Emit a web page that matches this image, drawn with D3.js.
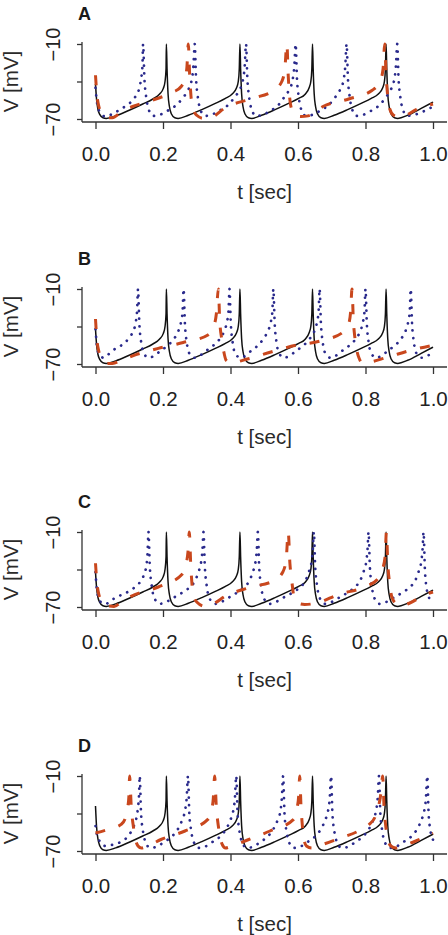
<!DOCTYPE html>
<html><head><meta charset="utf-8">
<script src="https://cdn.jsdelivr.net/npm/d3@7"></script>
<style>body{margin:0;background:#fff}svg{display:block}text{font-family:"Liberation Sans",Arial,Helvetica,sans-serif;fill:#222}</style>
</head><body>
<script>
// ---- data: [t (sec), V (mV)] ----
const panelLabels = ["A","B","C","D"];
const xTickValues = [0.0,0.2,0.4,0.6,0.8,1.0];
const yTickValues = [-10,-40,-70];
const yTickLabels = ["\u221210","","\u221270"];

const blackABC = [[0,-42],[0.003,-54],[0.007,-62],[0.013,-66.5],[0.022,-69],[0.032,-69.5],[0.06,-67.5],[0.10,-63],[0.14,-58],[0.17,-54],[0.19,-50],[0.201,-45.5],[0.206,-40],[0.209,-30],[0.21,-10],
[0.212,-30],[0.215,-50],[0.219,-60],[0.225,-66],[0.235,-69],[0.245,-69.5],[0.275,-67],[0.315,-62.5],[0.355,-57.5],[0.385,-53.5],[0.405,-50],[0.418,-45],[0.423,-40],[0.426,-30],[0.428,-10],
[0.430,-30],[0.433,-50],[0.437,-60],[0.443,-66],[0.453,-69],[0.463,-69.5],[0.492,-67],[0.532,-62.5],[0.572,-57.5],[0.602,-53.5],[0.622,-50],[0.633,-45],[0.638,-40],[0.641,-30],[0.643,-10],
[0.645,-30],[0.648,-50],[0.652,-60],[0.658,-66],[0.668,-69],[0.678,-69.5],[0.707,-67],[0.747,-62.5],[0.787,-57.5],[0.817,-53.5],[0.838,-50],[0.851,-45],[0.856,-40],[0.859,-30],[0.861,-10],
[0.863,-30],[0.866,-50],[0.870,-60],[0.876,-66],[0.886,-69],[0.896,-69.5],[0.925,-67],[0.965,-61.5],[1.0,-56.5]];

const blackD = [[0,-34],[0.003,-50],[0.007,-60],[0.013,-66],[0.022,-69],[0.032,-69.5],[0.06,-67.5],[0.10,-63],[0.14,-58],[0.17,-54],[0.19,-50],[0.201,-45.5],[0.206,-40],[0.209,-30],[0.21,-10],
[0.212,-30],[0.215,-50],[0.219,-60],[0.225,-66],[0.235,-69],[0.245,-69.5],[0.275,-67],[0.315,-62.5],[0.355,-57.5],[0.385,-53.5],[0.405,-50],[0.418,-45],[0.423,-40],[0.426,-30],[0.428,-10],
[0.430,-30],[0.433,-50],[0.437,-60],[0.443,-66],[0.453,-69],[0.463,-69.5],[0.492,-67],[0.532,-62.5],[0.572,-57.5],[0.602,-53.5],[0.622,-50],[0.633,-45],[0.638,-40],[0.641,-30],[0.643,-10],
[0.645,-30],[0.648,-50],[0.652,-60],[0.658,-66],[0.668,-69],[0.678,-69.5],[0.707,-67],[0.747,-62.5],[0.787,-57.5],[0.817,-53.5],[0.838,-50],[0.851,-45],[0.856,-40],[0.859,-30],[0.861,-10],
[0.863,-30],[0.866,-50],[0.870,-60],[0.876,-66],[0.886,-69],[0.896,-69.5],[0.925,-67],[0.965,-61.5],[1.0,-56.5]];

const blueA = [[0,-45],[0.004,-56],[0.01,-63],[0.02,-67],[0.03,-68],[0.05,-66],[0.077,-61.7],[0.097,-58.3],[0.116,-53],[0.129,-46],[0.135,-38],[0.139,-28],[0.141,-10],
[0.145,-38],[0.150,-52],[0.157,-62],[0.171,-67.5],[0.186,-67],[0.216,-63],[0.241,-58.5],[0.259,-53],[0.274,-47],[0.284,-40],[0.290,-28],[0.294,-10],
[0.298,-38],[0.303,-52],[0.310,-62],[0.324,-67.5],[0.339,-67],[0.369,-63],[0.394,-58.5],[0.411,-53],[0.426,-47],[0.436,-40],[0.442,-28],[0.446,-10],
[0.450,-38],[0.455,-52],[0.462,-62],[0.476,-67.5],[0.491,-67],[0.521,-63],[0.543,-58.5],[0.558,-53],[0.573,-47],[0.583,-40],[0.589,-28],[0.593,-10],
[0.597,-38],[0.602,-52],[0.609,-62],[0.623,-67.5],[0.638,-67],[0.668,-63],[0.692,-58.5],[0.709,-53],[0.724,-47],[0.734,-40],[0.740,-28],[0.744,-10],
[0.748,-38],[0.753,-52],[0.760,-62],[0.774,-67.5],[0.789,-67],[0.819,-63],[0.843,-58.5],[0.859,-53],[0.874,-47],[0.884,-40],[0.890,-28],[0.894,-10],
[0.898,-38],[0.903,-52],[0.910,-62],[0.924,-67.5],[0.939,-67],[0.975,-63.5],[1.0,-60]];

const redA = [[0,-35],[0.004,-50],[0.01,-60],[0.02,-66],[0.035,-69],[0.05,-69],[0.078,-64],[0.11,-60],[0.15,-56.5],[0.19,-53],[0.23,-48.5],[0.254,-44],[0.265,-38],[0.271,-28],[0.275,-10],
[0.279,-35],[0.283,-52],[0.289,-62],[0.30,-67],[0.32,-69.5],[0.34,-69],[0.387,-60.5],[0.466,-53.5],[0.531,-46.5],[0.552,-40],[0.561,-30],[0.567,-10],
[0.571,-35],[0.575,-52],[0.581,-62],[0.592,-67],[0.609,-68],[0.63,-67.5],[0.674,-60],[0.75,-54],[0.82,-47],[0.843,-40],[0.852,-30],[0.857,-10],
[0.861,-35],[0.866,-52],[0.872,-62],[0.883,-67],[0.90,-68.5],[0.92,-67],[0.95,-62.5],[1.0,-58]];

const blueB = [[0,-42],[0.005,-57],[0.013,-63.5],[0.025,-65],[0.033,-63.5],[0.052,-59],[0.077,-55],[0.097,-50],[0.111,-44],[0.119,-37],[0.123,-28],[0.126,-10],
[0.130,-38],[0.135,-52],[0.142,-61],[0.158,-65],[0.17,-64],[0.195,-59],[0.215,-55],[0.232,-50],[0.245,-44],[0.253,-37],[0.258,-28],[0.261,-10],
[0.265,-38],[0.270,-52],[0.277,-61],[0.293,-65],[0.305,-64],[0.33,-59],[0.35,-55],[0.368,-50],[0.381,-44],[0.389,-37],[0.394,-28],[0.397,-10],
[0.401,-38],[0.406,-52],[0.413,-61],[0.429,-65],[0.44,-64],[0.463,-59],[0.482,-55],[0.497,-50],[0.510,-44],[0.519,-37],[0.524,-28],[0.527,-10],
[0.531,-38],[0.536,-52],[0.543,-61],[0.559,-65],[0.571,-64],[0.597,-59],[0.617,-55],[0.634,-50],[0.648,-44],[0.656,-37],[0.661,-28],[0.664,-10],
[0.668,-38],[0.673,-52],[0.680,-61],[0.696,-65],[0.708,-64],[0.733,-59],[0.753,-55],[0.771,-50],[0.784,-44],[0.792,-37],[0.797,-28],[0.8,-10],
[0.804,-38],[0.809,-52],[0.816,-61],[0.832,-65],[0.844,-64],[0.868,-59],[0.888,-55],[0.905,-50],[0.918,-44],[0.926,-37],[0.931,-28],[0.934,-10],
[0.938,-38],[0.943,-52],[0.950,-61],[0.966,-65],[0.978,-64],[1.0,-61]];

const redB = [[0,-34],[0.004,-50],[0.01,-60],[0.02,-66],[0.035,-69.5],[0.05,-69.5],[0.085,-66],[0.12,-62.5],[0.186,-57.5],[0.26,-52.8],[0.333,-46.8],[0.350,-40],[0.358,-30],[0.364,-10],
[0.368,-35],[0.374,-50],[0.380,-60],[0.387,-67],[0.40,-69],[0.45,-66],[0.52,-60.4],[0.594,-55],[0.668,-51.5],[0.736,-44],[0.750,-38],[0.756,-28],[0.76,-10],
[0.764,-35],[0.769,-50],[0.775,-60],[0.782,-66],[0.79,-69],[0.81,-68.5],[0.86,-65],[0.934,-59],[1.0,-55]];

const blueC = [[0,-42],[0.004,-56],[0.01,-63],[0.02,-67],[0.03,-67.5],[0.05,-64],[0.077,-60.3],[0.102,-57],[0.121,-53],[0.141,-46],[0.150,-38],[0.154,-28],[0.157,-10],
[0.161,-38],[0.166,-52],[0.173,-62],[0.19,-67.5],[0.205,-66.5],[0.235,-62],[0.26,-58],[0.28,-54],[0.295,-49],[0.305,-42],[0.313,-34],[0.317,-24],[0.32,-10],
[0.324,-38],[0.329,-52],[0.336,-62],[0.353,-67.5],[0.368,-66.5],[0.398,-62],[0.422,-58],[0.441,-54],[0.456,-49],[0.466,-42],[0.474,-34],[0.478,-24],[0.481,-10],
[0.485,-38],[0.49,-52],[0.497,-62],[0.515,-67.5],[0.53,-66.5],[0.56,-62],[0.587,-58],[0.607,-54],[0.622,-49],[0.632,-42],[0.64,-34],[0.644,-24],[0.647,-10],
[0.651,-38],[0.656,-52],[0.663,-62],[0.68,-67.5],[0.695,-66.5],[0.725,-62],[0.75,-58],[0.769,-54],[0.784,-49],[0.794,-42],[0.802,-34],[0.806,-24],[0.809,-10],
[0.813,-38],[0.818,-52],[0.825,-62],[0.842,-67.5],[0.857,-66.5],[0.887,-62],[0.912,-58],[0.932,-54],[0.947,-49],[0.957,-42],[0.965,-34],[0.969,-24],[0.972,-10],
[0.976,-40],[0.981,-55],[0.99,-63.5],[1.0,-66]];

const redC = [[0,-35],[0.004,-50],[0.01,-60],[0.02,-66],[0.035,-69],[0.055,-69.5],[0.08,-65],[0.115,-60.3],[0.186,-54],[0.256,-44],[0.268,-36],[0.274,-26],[0.278,-10],
[0.282,-35],[0.286,-52],[0.29,-60],[0.3,-66],[0.325,-69.5],[0.345,-68],[0.387,-61],[0.458,-54.3],[0.531,-48.6],[0.555,-42],[0.565,-32],[0.571,-10],
[0.576,-35],[0.582,-50],[0.588,-62],[0.6,-67],[0.62,-68],[0.653,-67],[0.72,-60],[0.8,-53.6],[0.835,-48],[0.85,-40],[0.858,-30],[0.862,-10],
[0.866,-35],[0.872,-52],[0.878,-62],[0.89,-67],[0.91,-69],[0.93,-67],[0.978,-60],[1.0,-58]];

const blueD = [[0,-50],[0.005,-58],[0.01,-61],[0.02,-65],[0.03,-66],[0.05,-65],[0.077,-62.4],[0.097,-58],[0.112,-51],[0.121,-44],[0.126,-35],[0.129,-25],[0.131,-10],
[0.135,-40],[0.14,-53],[0.147,-62],[0.162,-67.5],[0.177,-67],[0.205,-62.5],[0.228,-58],[0.245,-52],[0.257,-45],[0.265,-38],[0.27,-28],[0.274,-10],
[0.278,-40],[0.283,-53],[0.29,-62],[0.305,-67.5],[0.32,-67],[0.348,-62.5],[0.371,-58],[0.388,-52],[0.4,-45],[0.408,-38],[0.413,-28],[0.417,-10],
[0.421,-40],[0.426,-53],[0.433,-62],[0.448,-67.5],[0.463,-67],[0.49,-62.5],[0.512,-58],[0.528,-52],[0.54,-45],[0.548,-38],[0.552,-28],[0.556,-10],
[0.56,-40],[0.565,-53],[0.572,-62],[0.587,-67.5],[0.602,-67],[0.63,-62.5],[0.652,-58],[0.669,-52],[0.681,-45],[0.689,-38],[0.694,-28],[0.698,-10],
[0.702,-40],[0.707,-53],[0.714,-62],[0.729,-67.5],[0.744,-67],[0.772,-62.5],[0.794,-58],[0.811,-52],[0.823,-45],[0.831,-38],[0.836,-28],[0.84,-10],
[0.844,-40],[0.849,-53],[0.856,-62],[0.871,-67.5],[0.886,-67],[0.914,-62.5],[0.937,-58],[0.954,-52],[0.966,-45],[0.974,-38],[0.979,-28],[0.983,-10],
[0.987,-40],[0.992,-53],[1.0,-61]];

const redD = [[0,-55.6],[0.04,-52.5],[0.076,-48.7],[0.088,-44],[0.095,-36],[0.099,-26],[0.101,-10],
[0.106,-35],[0.112,-50],[0.118,-60],[0.126,-66],[0.136,-67.6],[0.15,-66.5],[0.194,-60.8],[0.265,-54],[0.333,-44.7],[0.343,-38],[0.349,-28],[0.353,-10],
[0.358,-35],[0.364,-50],[0.37,-60],[0.376,-65],[0.385,-67.6],[0.40,-66.5],[0.454,-60.8],[0.517,-54],[0.587,-44.7],[0.597,-36],[0.602,-26],[0.605,-10],
[0.609,-35],[0.613,-50],[0.617,-60],[0.625,-66],[0.641,-67.6],[0.66,-66],[0.721,-60],[0.783,-53.5],[0.81,-49],[0.828,-43],[0.838,-35],[0.845,-25],[0.851,-10],
[0.855,-35],[0.86,-50],[0.866,-60],[0.875,-66],[0.89,-67.6],[0.91,-66],[0.949,-62],[1.0,-55.6]];

const blackSeries = [blackABC, blackABC, blackABC, blackD];
const blueSeries = [blueA, blueB, blueC, blueD];
const redSeries = [redA, redB, redC, redD];

// ---- layout ----
const W = 448, H = 935;
const panelTops = [44, 289, 532, 776];
const plotH = 75, boxLeft = 82, boxRight = 447;
const svg = d3.select("body").append("svg").attr("width", W).attr("height", H);
const x = d3.scaleLinear().domain([0, 1]).range([95.5, 433]);

panelLabels.forEach((lab, i) => {
  const top = panelTops[i];
  const y = d3.scaleLinear().domain([-70, -10]).range([top + plotH, top]);
  const base = top + 78;
  const g = svg.append("g");

  g.append("line").attr("x1", boxLeft).attr("x2", boxLeft).attr("y1", top - 2).attr("y2", base)
    .attr("stroke", "#333").attr("stroke-width", 1.3);
  g.append("line").attr("x1", boxLeft).attr("x2", boxRight).attr("y1", base).attr("y2", base)
    .attr("stroke", "#333").attr("stroke-width", 1.3);

  const xa = g.append("g").attr("transform", `translate(0,${base})`)
    .call(d3.axisBottom(x).tickValues(xTickValues).tickFormat(d3.format(".1f")).tickSize(7).tickSizeOuter(0));
  xa.select(".domain").remove();
  xa.selectAll(".tick line").attr("stroke", "#333").attr("stroke-width", 1.3);
  xa.selectAll(".tick text").attr("y", 39).attr("dy", 0).style("font-size", "20.5px")
    .style("font-family", '"Liberation Sans",Arial,sans-serif').attr("fill", "#2a2a2a");

  const ya = g.append("g").attr("transform", `translate(${boxLeft},0)`)
    .call(d3.axisLeft(y).tickValues(yTickValues).tickFormat((d, k) => yTickLabels[k]).tickSize(5).tickSizeOuter(0));
  ya.select(".domain").remove();
  ya.selectAll(".tick line").attr("stroke", "#333").attr("stroke-width", 1.3);
  ya.selectAll(".tick text").attr("transform", "rotate(-90)").attr("x", 0).attr("y", -22).attr("dy", 0)
    .attr("text-anchor", "middle").style("font-size", "20px")
    .style("font-family", '"Liberation Sans",Arial,sans-serif').attr("fill", "#2a2a2a");

  g.append("text").attr("x", (boxLeft + boxRight) / 2).attr("y", base + 77).attr("text-anchor", "middle")
    .style("font-size", "20.5px").style("fill", "#2a2a2a").text("t [sec]");
  g.append("text").attr("transform", `translate(18,${top + plotH / 2}) rotate(-90)`).attr("text-anchor", "middle")
    .style("font-size", "20.5px").style("fill", "#2a2a2a").text("V [mV]");
  g.append("text").attr("x", 78).attr("y", top - 24).style("font-size", "18px").style("font-weight", "bold")
    .style("fill", "#1a1a1a").text(lab);

  const line = d3.line().x(d => x(d[0])).y(d => y(d[1])).curve(d3.curveMonotoneX);
  g.append("path").datum(blackSeries[i]).attr("d", line).attr("fill", "none")
    .attr("stroke", "#111").attr("stroke-width", 1.5).attr("stroke-linejoin", "round");
  g.append("path").datum(blueSeries[i]).attr("d", line).attr("fill", "none")
    .attr("stroke", "#2a2a8c").attr("stroke-width", 2.7).attr("stroke-linecap", "round")
    .attr("stroke-dasharray", "0.1,7.5");
  g.append("path").datum(redSeries[i]).attr("d", line).attr("fill", "none")
    .attr("stroke", "#c9471d").attr("stroke-width", 3).attr("stroke-dasharray", "10,14");
});
</script>
</body></html>
